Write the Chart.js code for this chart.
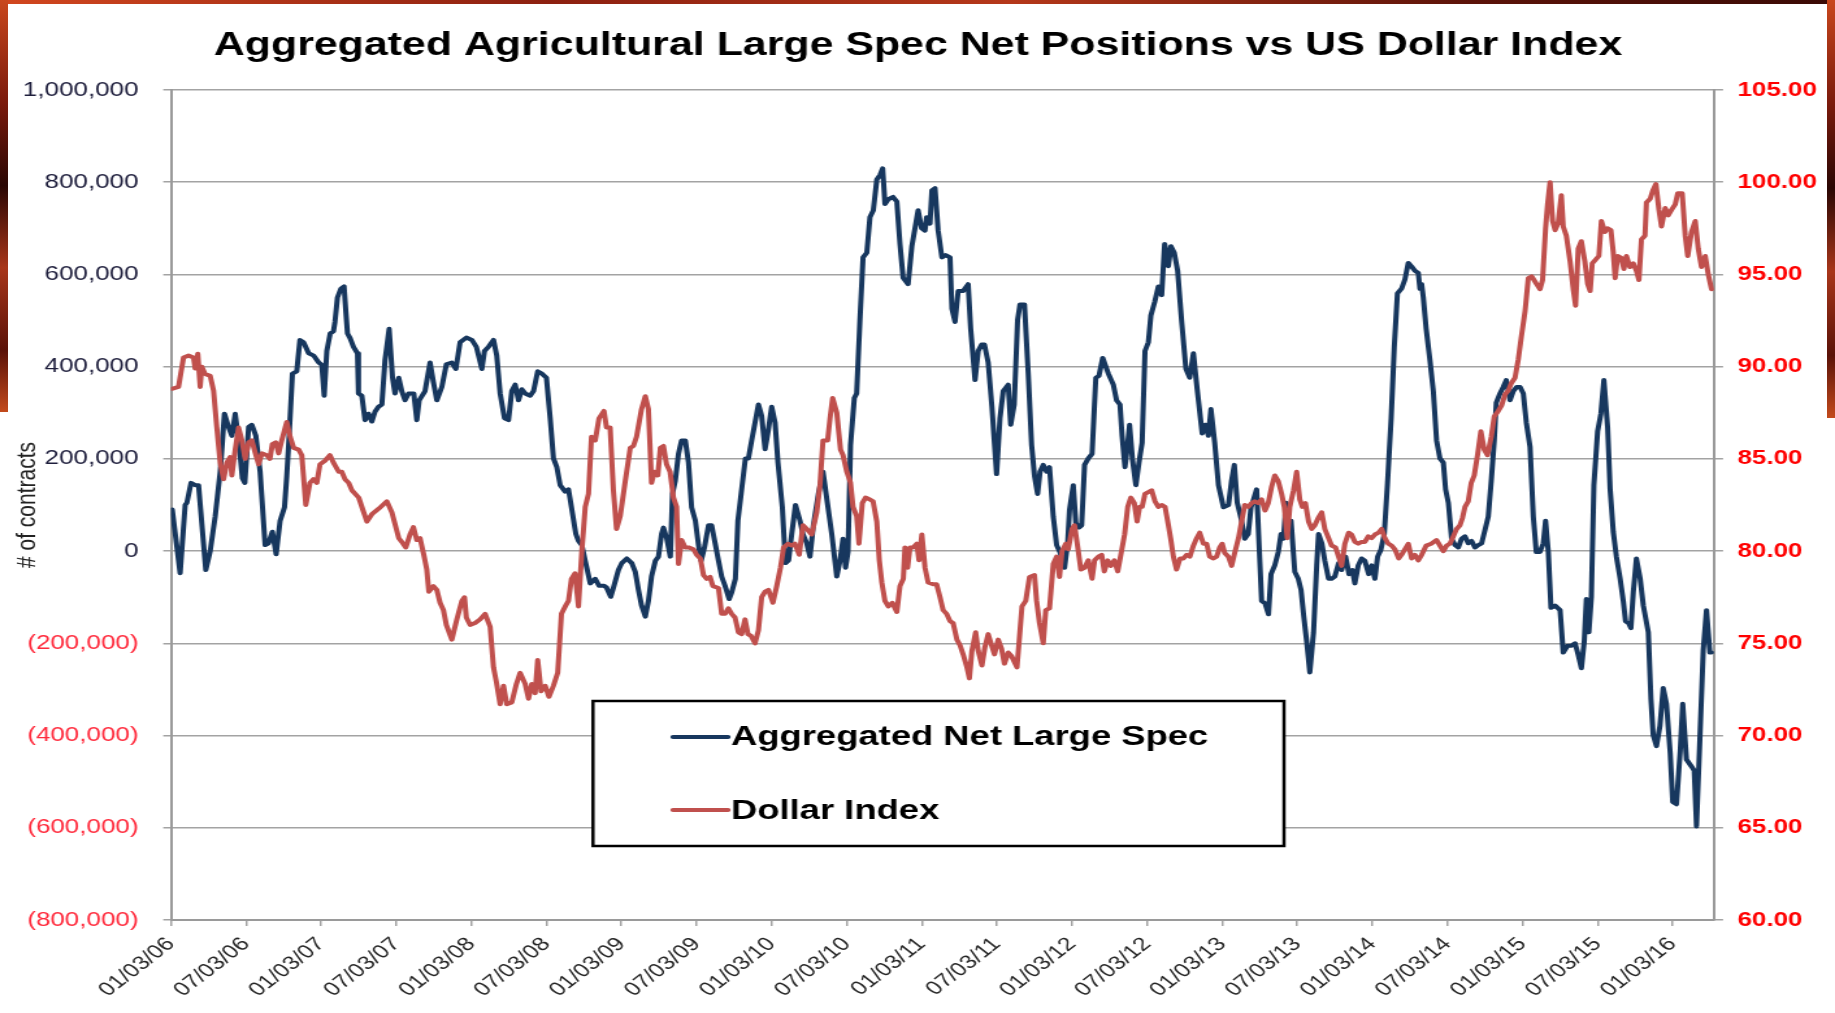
<!DOCTYPE html>
<html>
<head>
<meta charset="utf-8">
<script src="https://cdn.jsdelivr.net/npm/chart.js@4.4.1/dist/chart.umd.min.js"></script>
<style>
  html, body { margin: 0; padding: 0; background: #ffffff; overflow: hidden; width: 1835px; height: 1013px; }
  #wrap { position: relative; width: 1835px; height: 1013px; background: #ffffff; }
  #c { position: absolute; left: 0; top: 0; }
  .strip { position: absolute; background: linear-gradient(180deg, #c9471d 0%, #7a1a0c 25%, #2a0704 45%, #a8361a 65%, #5a1208 85%, #c34a1c 100%); }
  .strip.top { background: linear-gradient(90deg, #d2471f 0%, #8c2010 30%, #b5381a 55%, #5c1309 80%, #3a0a05 100%); }
</style>
</head>
<body>
<div id="wrap">
  <canvas id="c" width="1412" height="1013" style="width:1835px;height:1013px"></canvas>
  <div class="strip top" style="left:0;top:0;width:1835px;height:4px"></div>
  <div class="strip" style="left:0;top:0;width:8px;height:412px"></div>
  <div class="strip" style="left:1827px;top:0;width:8px;height:418px"></div>
</div>
<script>
// ---------------- DATA ----------------
const chartTitle = 'Aggregated Agricultural Large Spec Net Positions vs US Dollar Index';
const axisTitle = '# of contracts';
const seriesNames = ['Aggregated Net Large Spec', 'Dollar Index'];

// x tick labels, one every 6 months starting 01/03/06
const tickLabels = ['01/03/06','07/03/06','01/03/07','07/03/07','01/03/08','07/03/08','01/03/09','07/03/09',
  '01/03/10','07/03/10','01/03/11','07/03/11','01/03/12','07/03/12','01/03/13','07/03/13','01/03/14',
  '07/03/14','01/03/15','07/03/15','01/03/16'];

// Aggregated net large spec positions: months since 01/03/06, contracts
const netMonths = [0.1,0.73,1.13,1.27,1.6,1.93,2.2,2.78,3.13,3.53,3.93,4.27,4.6,4.87,5.13,5.45,5.7,5.9,6.2,6.46,6.78,7.12,7.52,7.79,8.1,8.4,8.72,9.07,9.25,9.44,9.7,10.05,10.3,10.59,11.0,11.4,11.8,12.05,12.24,12.45,12.72,12.98,13.1,13.3,13.57,13.83,13.97,14.1,14.31,14.58,14.9,14.98,15.25,15.5,15.78,16.05,16.31,16.58,16.85,17.1,17.43,17.7,17.9,18.2,18.44,18.7,18.98,19.4,19.64,19.83,20.3,20.7,20.97,21.24,21.64,22.0,22.44,22.76,23.1,23.6,24.04,24.4,24.84,25.05,25.37,25.77,26.03,26.3,26.65,26.97,27.23,27.5,27.77,28.03,28.3,28.7,28.97,29.3,29.63,30.0,30.3,30.56,30.83,31.1,31.5,31.76,32.0,32.35,32.56,32.83,33.1,33.5,33.9,34.2,34.6,34.8,35.14,35.4,35.75,36.02,36.42,36.82,37.1,37.35,37.6,37.9,38.15,38.4,38.7,38.95,39.2,39.35,39.62,39.9,40.07,40.3,40.55,40.8,41.1,41.35,41.6,41.9,42.15,42.36,42.63,42.95,43.2,43.48,43.75,44.0,44.27,44.6,44.81,45.1,45.3,45.6,45.9,46.14,46.4,46.67,46.94,47.2,47.47,47.74,48.0,48.27,48.5,48.85,49.1,49.35,49.6,49.9,50.26,50.5,50.8,51.06,51.33,51.73,52.1,52.4,52.8,53.2,53.46,53.7,53.9,54.1,54.3,54.6,54.79,55.05,55.3,55.6,55.85,56.12,56.4,56.66,56.87,57.05,57.32,57.7,58.0,58.25,58.5,58.9,59.2,59.45,59.7,59.98,60.25,60.38,60.65,60.8,61.05,61.3,61.6,61.9,62.25,62.4,62.65,62.9,63.3,63.7,63.9,64.25,64.5,64.78,65.0,65.3,65.6,65.97,66.24,66.5,66.9,67.1,67.38,67.65,67.84,68.2,68.5,68.77,69.0,69.25,69.44,69.7,69.97,70.2,70.5,70.77,71.03,71.4,71.65,71.8,72.1,72.3,72.55,72.77,73.0,73.3,73.6,73.9,74.15,74.45,74.9,75.3,75.56,75.83,76.0,76.23,76.44,76.6,76.82,77.1,77.35,77.6,77.83,78.1,78.3,78.6,78.9,79.16,79.4,79.7,79.9,80.17,80.44,80.75,81.1,81.4,81.7,82.0,82.4,82.67,82.9,83.1,83.4,83.7,84.1,84.5,84.75,84.97,85.2,85.55,85.8,86.08,86.3,86.48,86.75,86.94,87.15,87.42,87.7,87.9,88.2,88.48,88.7,88.9,89.1,89.28,89.5,89.8,90.08,90.3,90.5,90.75,91.0,91.3,91.55,91.7,91.96,92.2,92.5,92.74,93.0,93.3,93.54,93.86,94.13,94.4,94.6,94.87,95.14,95.4,95.7,95.94,96.2,96.42,96.68,96.95,97.2,97.5,97.75,98.0,98.33,98.6,98.87,99.14,99.4,99.67,99.8,99.94,100.07,100.3,100.6,100.87,101.13,101.4,101.67,101.85,102.07,102.33,102.6,102.87,103.13,103.4,103.66,103.93,104.2,104.46,104.73,105.0,105.26,105.5,105.74,105.9,106.2,106.46,106.7,107.0,107.26,107.53,107.8,108.06,108.3,108.6,108.86,109.1,109.39,109.66,109.84,110.06,110.27,110.6,111.0,111.25,111.6,111.92,112.2,112.45,112.7,112.93,113.1,113.3,113.5,113.7,114.0,114.26,114.5,114.8,115.0,115.25,115.5,115.8,116.05,116.23,116.5,116.66,116.85,117.1,117.4,117.65,118.05,118.26,118.44,118.7,118.98,119.24,119.5,119.8,120.0,120.3,120.6,120.8,121.1,121.5,121.72,121.9,122.17,122.44,122.7,122.97,123.1];
const netValues = [90000,-48000,100000,105000,148000,143000,143000,-41000,0,75000,172000,298000,269000,250000,298000,230000,158000,148000,269000,274000,250000,172000,13000,17000,42000,-7000,66000,95000,163000,250000,385000,390000,458000,453000,429000,424000,409000,404000,337000,434000,472000,477000,497000,550000,569000,574000,520000,472000,462000,443000,429000,342000,337000,284000,298000,281000,303000,313000,318000,414000,482000,376000,342000,376000,347000,327000,342000,342000,284000,327000,347000,409000,366000,327000,356000,405000,409000,395000,453000,463000,458000,443000,395000,434000,443000,458000,424000,342000,288000,284000,347000,361000,327000,351000,342000,337000,347000,390000,385000,376000,288000,201000,182000,143000,129000,134000,95000,37000,22000,13000,-21000,-70000,-60000,-75000,-75000,-79000,-99000,-75000,-41000,-26000,-16000,-26000,-45000,-84000,-118000,-142000,-108000,-55000,-21000,-12000,37000,51000,27000,-12000,124000,153000,211000,240000,240000,192000,95000,66000,13000,-21000,8000,56000,56000,17000,-21000,-55000,-75000,-104000,-89000,-60000,66000,134000,201000,201000,240000,279000,318000,293000,221000,264000,313000,279000,192000,95000,-26000,-20000,37000,100000,66000,37000,17000,-12000,56000,124000,172000,114000,37000,-55000,-21000,27000,-36000,-2000,230000,332000,342000,501000,637000,647000,724000,739000,806000,816000,830000,753000,763000,768000,758000,666000,593000,579000,661000,700000,739000,700000,695000,724000,710000,782000,787000,695000,637000,642000,637000,526000,497000,564000,564000,579000,482000,371000,434000,448000,448000,409000,313000,167000,288000,347000,361000,274000,318000,501000,535000,535000,385000,230000,163000,124000,172000,187000,172000,182000,75000,13000,-2000,-36000,17000,90000,143000,61000,51000,56000,187000,201000,211000,376000,380000,419000,385000,361000,327000,318000,250000,182000,230000,274000,201000,143000,192000,235000,434000,453000,511000,540000,574000,555000,666000,618000,661000,647000,608000,501000,395000,376000,429000,351000,255000,274000,250000,308000,235000,143000,95000,100000,153000,187000,105000,66000,27000,37000,95000,110000,134000,17000,-108000,-113000,-137000,-50000,-31000,-2000,37000,27000,105000,42000,66000,-45000,-60000,-84000,-137000,-196000,-263000,-176000,-31000,37000,17000,-21000,-60000,-60000,-55000,-26000,-41000,-12000,-50000,-41000,-70000,-31000,-16000,-21000,-50000,-31000,-60000,-12000,3000,37000,143000,288000,443000,559000,569000,589000,625000,617000,608000,603000,569000,579000,550000,482000,414000,347000,240000,201000,192000,134000,105000,27000,13000,8000,27000,32000,17000,22000,8000,13000,17000,46000,75000,153000,240000,322000,342000,356000,371000,327000,347000,356000,356000,342000,279000,226000,75000,-2000,-2000,17000,66000,-2000,-123000,-118000,-128000,-220000,-205000,-205000,-200000,-225000,-254000,-196000,-104000,-176000,-99000,143000,260000,298000,371000,269000,134000,42000,-12000,-60000,-108000,-152000,-157000,-167000,-89000,-16000,-60000,-118000,-176000,-321000,-399000,-423000,-379000,-297000,-331000,-438000,-544000,-549000,-433000,-331000,-452000,-467000,-476000,-597000,-408000,-215000,-128000,-220000,-220000];

// US Dollar Index: months since 01/03/06, index level
const usdMonths = [0.07,0.6,1.0,1.4,1.8,1.93,2.14,2.33,2.46,2.73,3.13,3.4,3.66,3.93,4.2,4.46,4.73,4.86,5.13,5.4,5.66,5.93,6.2,6.46,6.7,7.0,7.26,7.66,7.9,8.1,8.37,8.6,8.85,9.25,9.52,9.8,10.2,10.45,10.77,11.1,11.38,11.65,11.9,12.3,12.7,12.98,13.4,13.65,13.9,14.2,14.45,15.0,15.4,15.65,16.05,16.6,17.25,17.65,18.2,18.44,18.76,19.1,19.37,19.64,19.9,20.2,20.44,20.6,20.97,21.24,21.5,21.77,22.0,22.44,22.84,23.24,23.45,23.6,23.9,24.3,24.7,25.1,25.5,25.77,26.0,26.3,26.57,26.83,27.23,27.6,27.9,28.3,28.57,28.83,29.1,29.3,29.57,29.9,30.2,30.56,30.9,31.2,31.5,31.76,32.0,32.29,32.56,32.83,33.1,33.36,33.6,33.9,34.2,34.6,34.8,35.09,35.35,35.6,35.9,36.3,36.7,36.95,37.2,37.6,37.9,38.15,38.4,38.63,38.9,39.1,39.35,39.6,39.88,40.15,40.4,40.55,40.8,41.08,41.35,41.75,42.0,42.3,42.55,42.81,43.08,43.3,43.75,44.0,44.27,44.54,44.8,45.07,45.34,45.6,45.87,46.1,46.35,46.67,46.94,47.2,47.47,47.74,48.1,48.4,48.7,48.95,49.3,49.6,49.86,50.2,50.5,50.8,51.2,51.6,51.86,52.1,52.47,52.66,52.87,53.2,53.5,53.7,54.0,54.3,54.5,54.79,54.97,55.24,55.5,55.85,56.1,56.4,56.6,56.8,57.05,57.32,57.64,58.0,58.25,58.52,58.65,58.86,59.05,59.3,59.6,59.77,60.0,60.25,60.5,60.9,61.18,61.45,61.7,61.98,62.25,62.5,62.8,63.05,63.3,63.6,63.8,64.0,64.3,64.5,64.8,65.04,65.3,65.57,65.8,66.1,66.37,66.6,66.9,67.17,67.6,67.76,68.0,68.3,68.6,69.0,69.17,69.4,69.7,69.9,70.2,70.5,70.77,71.0,71.2,71.5,71.7,72.0,72.2,72.5,72.7,73.0,73.3,73.6,73.8,74.1,74.37,74.58,74.85,75.1,75.38,75.65,75.9,76.2,76.45,76.7,76.98,77.2,77.4,77.6,77.83,78.1,78.36,78.63,78.9,79.16,79.43,79.7,79.9,80.1,80.35,80.63,80.9,81.16,81.42,81.7,81.96,82.2,82.5,82.76,83.0,83.3,83.55,83.8,84.0,84.2,84.5,84.75,85.0,85.3,85.55,85.8,86.08,86.35,86.6,86.88,87.15,87.42,87.68,87.95,88.2,88.48,88.75,88.96,89.2,89.4,89.7,89.95,90.2,90.4,90.65,90.9,91.15,91.4,91.68,91.95,92.2,92.5,92.74,93.06,93.3,93.54,93.8,94.1,94.34,94.6,94.87,95.14,95.4,95.67,95.94,96.2,96.5,96.74,97.0,97.27,97.54,97.8,98.1,98.33,98.6,98.87,99.14,99.4,99.67,99.94,100.3,100.7,101.13,101.4,101.67,101.93,102.2,102.47,102.73,103.0,103.2,103.4,103.66,103.9,104.14,104.4,104.67,104.94,105.2,105.5,105.74,106.06,106.33,106.6,106.86,107.1,107.4,107.66,107.9,108.2,108.46,108.73,109.1,109.4,109.6,109.84,110.0,110.2,110.4,110.6,110.85,111.1,111.25,111.5,111.8,112.05,112.24,112.45,112.7,112.98,113.2,113.4,113.57,113.84,114.1,114.3,114.58,114.8,115.06,115.25,115.4,115.6,115.9,116.1,116.3,116.58,116.85,117.1,117.3,117.5,117.78,117.9,118.2,118.44,118.66,118.9,119.1,119.4,119.64,119.9,120.2,120.4,120.76,121.0,121.2,121.5,121.8,122.04,122.3,122.6,122.84,123.1];
const usdValues = [88.8,88.9,90.5,90.6,90.5,89.9,90.7,88.9,90.0,89.6,89.5,88.7,86.7,84.8,83.9,84.8,85.1,84.1,85.5,86.7,86.0,85.0,85.9,86.0,85.4,84.7,85.3,85.2,85.0,85.8,85.9,85.3,86.0,87.0,86.2,85.6,85.5,85.2,82.5,83.7,83.9,83.7,84.7,84.9,85.2,84.8,84.3,84.3,83.9,83.7,83.3,82.9,82.1,81.6,82.0,82.3,82.7,82.1,80.7,80.5,80.2,80.9,81.3,80.6,80.7,79.8,79.0,77.8,78.1,77.9,77.2,76.8,76.0,75.2,76.3,77.3,77.5,76.4,76.0,76.1,76.3,76.6,75.9,73.7,72.9,71.7,72.7,71.7,71.8,72.8,73.4,72.8,72.0,72.8,72.3,74.1,72.4,72.7,72.1,72.7,73.4,76.6,77.0,77.3,78.5,78.8,77.0,80.0,82.4,83.1,86.2,86.0,87.2,87.6,86.7,86.7,83.3,81.2,81.9,83.8,85.6,85.7,86.2,87.7,88.4,87.7,83.7,84.3,84.1,85.6,85.7,84.7,84.3,82.9,82.4,79.3,80.6,80.2,80.2,80.1,79.8,79.6,78.7,78.5,78.6,78.1,78.0,76.6,76.6,76.9,76.6,76.4,75.6,75.5,76.3,75.5,75.4,75.0,75.7,77.5,77.8,77.9,77.2,78.1,79.1,80.2,80.4,80.3,80.4,79.8,81.4,81.2,80.9,82.1,83.6,86.0,86.0,87.2,88.3,87.5,85.5,85.2,84.3,83.7,82.4,81.9,80.4,82.6,82.9,82.8,82.7,81.6,79.5,78.3,77.3,77.0,77.2,76.7,78.1,78.5,80.2,79.1,80.2,80.2,80.4,79.5,80.9,79.1,78.3,78.2,78.2,77.5,76.8,76.6,76.2,76.1,75.2,74.9,74.4,73.7,73.1,74.6,75.6,74.6,73.8,74.8,75.5,74.9,74.4,75.2,74.7,73.9,74.5,74.3,73.7,75.0,77.0,77.3,78.6,78.7,77.3,76.1,75.0,76.8,76.9,79.3,79.7,78.6,80.0,80.4,80.1,81.2,81.4,80.0,79.0,79.1,79.5,78.5,79.5,79.7,79.8,78.9,79.5,79.2,79.5,78.9,79.8,80.9,82.4,82.9,82.6,81.6,82.4,82.4,83.1,83.2,83.3,82.7,82.4,82.5,82.4,81.4,80.6,79.7,79.0,79.6,79.6,79.8,79.7,80.3,80.7,81.0,80.4,80.4,79.7,79.6,79.7,80.2,80.4,79.9,79.7,79.2,79.9,80.7,81.6,82.5,82.4,82.6,82.7,82.6,82.8,82.2,82.6,83.5,84.1,83.8,83.1,82.4,80.7,82.4,83.3,84.3,82.8,82.4,82.6,81.6,81.2,81.4,81.8,82.1,81.2,80.7,80.3,80.2,79.7,79.2,80.4,81.0,80.9,80.5,80.4,80.5,80.5,80.8,80.7,80.9,81.0,81.2,80.7,80.4,80.3,80.1,79.6,79.8,80.1,80.4,79.6,79.8,79.5,79.8,80.3,80.4,80.6,80.3,80.0,80.3,80.4,80.8,81.2,81.4,81.8,82.4,82.7,83.7,84.1,85.2,86.5,85.5,85.2,86.2,87.3,87.6,87.9,88.5,88.7,89.1,89.4,90.4,91.6,93.0,94.8,94.9,94.5,94.2,94.7,97.5,98.8,100.0,97.9,97.4,97.8,99.3,97.6,97.1,95.7,94.2,93.3,96.4,96.8,95.7,94.5,94.1,95.6,95.8,96.0,97.9,97.3,97.5,97.4,96.2,94.8,96.0,95.9,95.3,96.0,95.4,95.6,95.2,94.7,96.9,97.1,98.9,99.1,99.6,99.9,98.5,97.6,98.6,98.2,98.5,98.8,99.4,99.4,97.1,96.0,97.3,97.9,96.4,95.4,96.0,95.0,94.2];

// ---------------- RENDER ----------------
const S = 1835 / 1412;                 // the reference is horizontally stretched
const FONT = "'Liberation Sans', Arial, Helvetica, sans-serif";
const NAVY = '#17375E';
const RED = '#C0504D';
const GRID = '#a3a3a3';
const AXIS = '#9a9a9a';

function fmtThousands(v) {
  const s = String(Math.abs(v)).replace(/\B(?=(\d{3})+(?!\d))/g, ',');
  return v < 0 ? '(' + s + ')' : s;
}

const decor = {
  id: 'decor',
  afterDraw(chart) {
    const ctx = chart.ctx;
    ctx.save();
    // Title
    ctx.font = 'bold 33px ' + FONT;
    ctx.fillStyle = '#000000';
    ctx.textAlign = 'center';
    ctx.textBaseline = 'alphabetic';
    ctx.fillText(chartTitle, 918 / S, 55);

    // Legend box
    const bx = 593 / S, by = 701, bw = (1284 - 593) / S, bh = 145;
    ctx.fillStyle = '#ffffff';
    ctx.fillRect(bx, by, bw, bh);
    ctx.lineWidth = 2.5;
    ctx.strokeStyle = '#000000';
    ctx.strokeRect(bx, by, bw, bh);
    const rows = [[seriesNames[0], NAVY, 737, 745], [seriesNames[1], RED, 810, 819]];
    ctx.textAlign = 'left';
    ctx.font = 'bold 28px ' + FONT;
    rows.forEach(([label, col, ly, base]) => {
      ctx.strokeStyle = col;
      ctx.lineWidth = 4;
      ctx.lineCap = 'round';
      ctx.beginPath();
      ctx.moveTo(673 / S, ly);
      ctx.lineTo(728 / S, ly);
      ctx.stroke();
      ctx.fillStyle = '#000000';
      ctx.fillText(label, 731 / S, base);
    });
    ctx.restore();
  }
};

new Chart(document.getElementById('c'), {
  type: 'line',
  data: {
    datasets: [
      {
        label: seriesNames[0],
        data: netMonths.map((m, i) => ({ x: m, y: netValues[i] })),
        yAxisID: 'y',
        borderColor: NAVY,
        backgroundColor: NAVY,
        borderWidth: 4,
        pointRadius: 0,
        tension: 0,
        borderJoinStyle: 'round',
        borderCapStyle: 'round',
        order: 1
      },
      {
        label: seriesNames[1],
        data: usdMonths.map((m, i) => ({ x: m, y: usdValues[i] })),
        yAxisID: 'y1',
        borderColor: RED,
        backgroundColor: RED,
        borderWidth: 4,
        pointRadius: 0,
        tension: 0,
        borderJoinStyle: 'round',
        borderCapStyle: 'round',
        order: 0
      }
    ]
  },
  options: {
    responsive: false,
    animation: false,
    devicePixelRatio: 1,
    layout: { padding: { top: 90, left: 0, right: 0, bottom: 0 } },
    plugins: { legend: { display: false }, title: { display: false }, tooltip: { enabled: false } },
    scales: {
      x: {
        type: 'linear',
        position: 'bottom',
        min: 0,
        max: 123.3,
        afterBuildTicks: (s) => { s.ticks = tickLabels.map((_, i) => ({ value: i * 6 })); },
        afterFit: (s) => { s.height = 93; },
        grid: { drawOnChartArea: false, drawTicks: true, tickLength: 6, color: GRID, lineWidth: 1.5 },
        border: { display: true, color: AXIS, width: 2 },
        ticks: {
          autoSkip: false, minRotation: 45, maxRotation: 45, padding: 7,
          color: '#262626', font: { family: FONT, size: 19 },
          callback: (v) => tickLabels[Math.round(v / 6)]
        }
      },
      y: {
        position: 'left',
        min: -800000,
        max: 1000000,
        afterFit: (s) => { s.width = 171 / S; },
        grid: { color: GRID, lineWidth: 1.5, tickLength: 6, drawTicks: true },
        border: { color: AXIS, width: 2 },
        ticks: {
          stepSize: 200000, padding: 19,
          color: (c) => (c.tick && c.tick.value < 0 ? '#ff2a3c' : '#1e1e3c'),
          font: { family: FONT, size: 20 },
          callback: (v) => fmtThousands(v)
        },
        title: { display: true, text: axisTitle, color: '#222222', font: { family: FONT, size: 21 }, padding: { top: 9, bottom: 0 } }
      },
      y1: {
        position: 'right',
        min: 60,
        max: 105,
        afterFit: (s) => { s.width = 1412 - 1714 / S; },
        grid: { drawOnChartArea: false, drawTicks: true, tickLength: 7, color: GRID, lineWidth: 1.5 },
        border: { color: AXIS, width: 2 },
        ticks: {
          stepSize: 5, padding: 11, color: '#ff0000',
          font: { family: FONT, size: 20, weight: 'bold' },
          callback: (v) => v.toFixed(2)
        }
      }
    }
  },
  plugins: [decor]
});
</script>
</body>
</html>
